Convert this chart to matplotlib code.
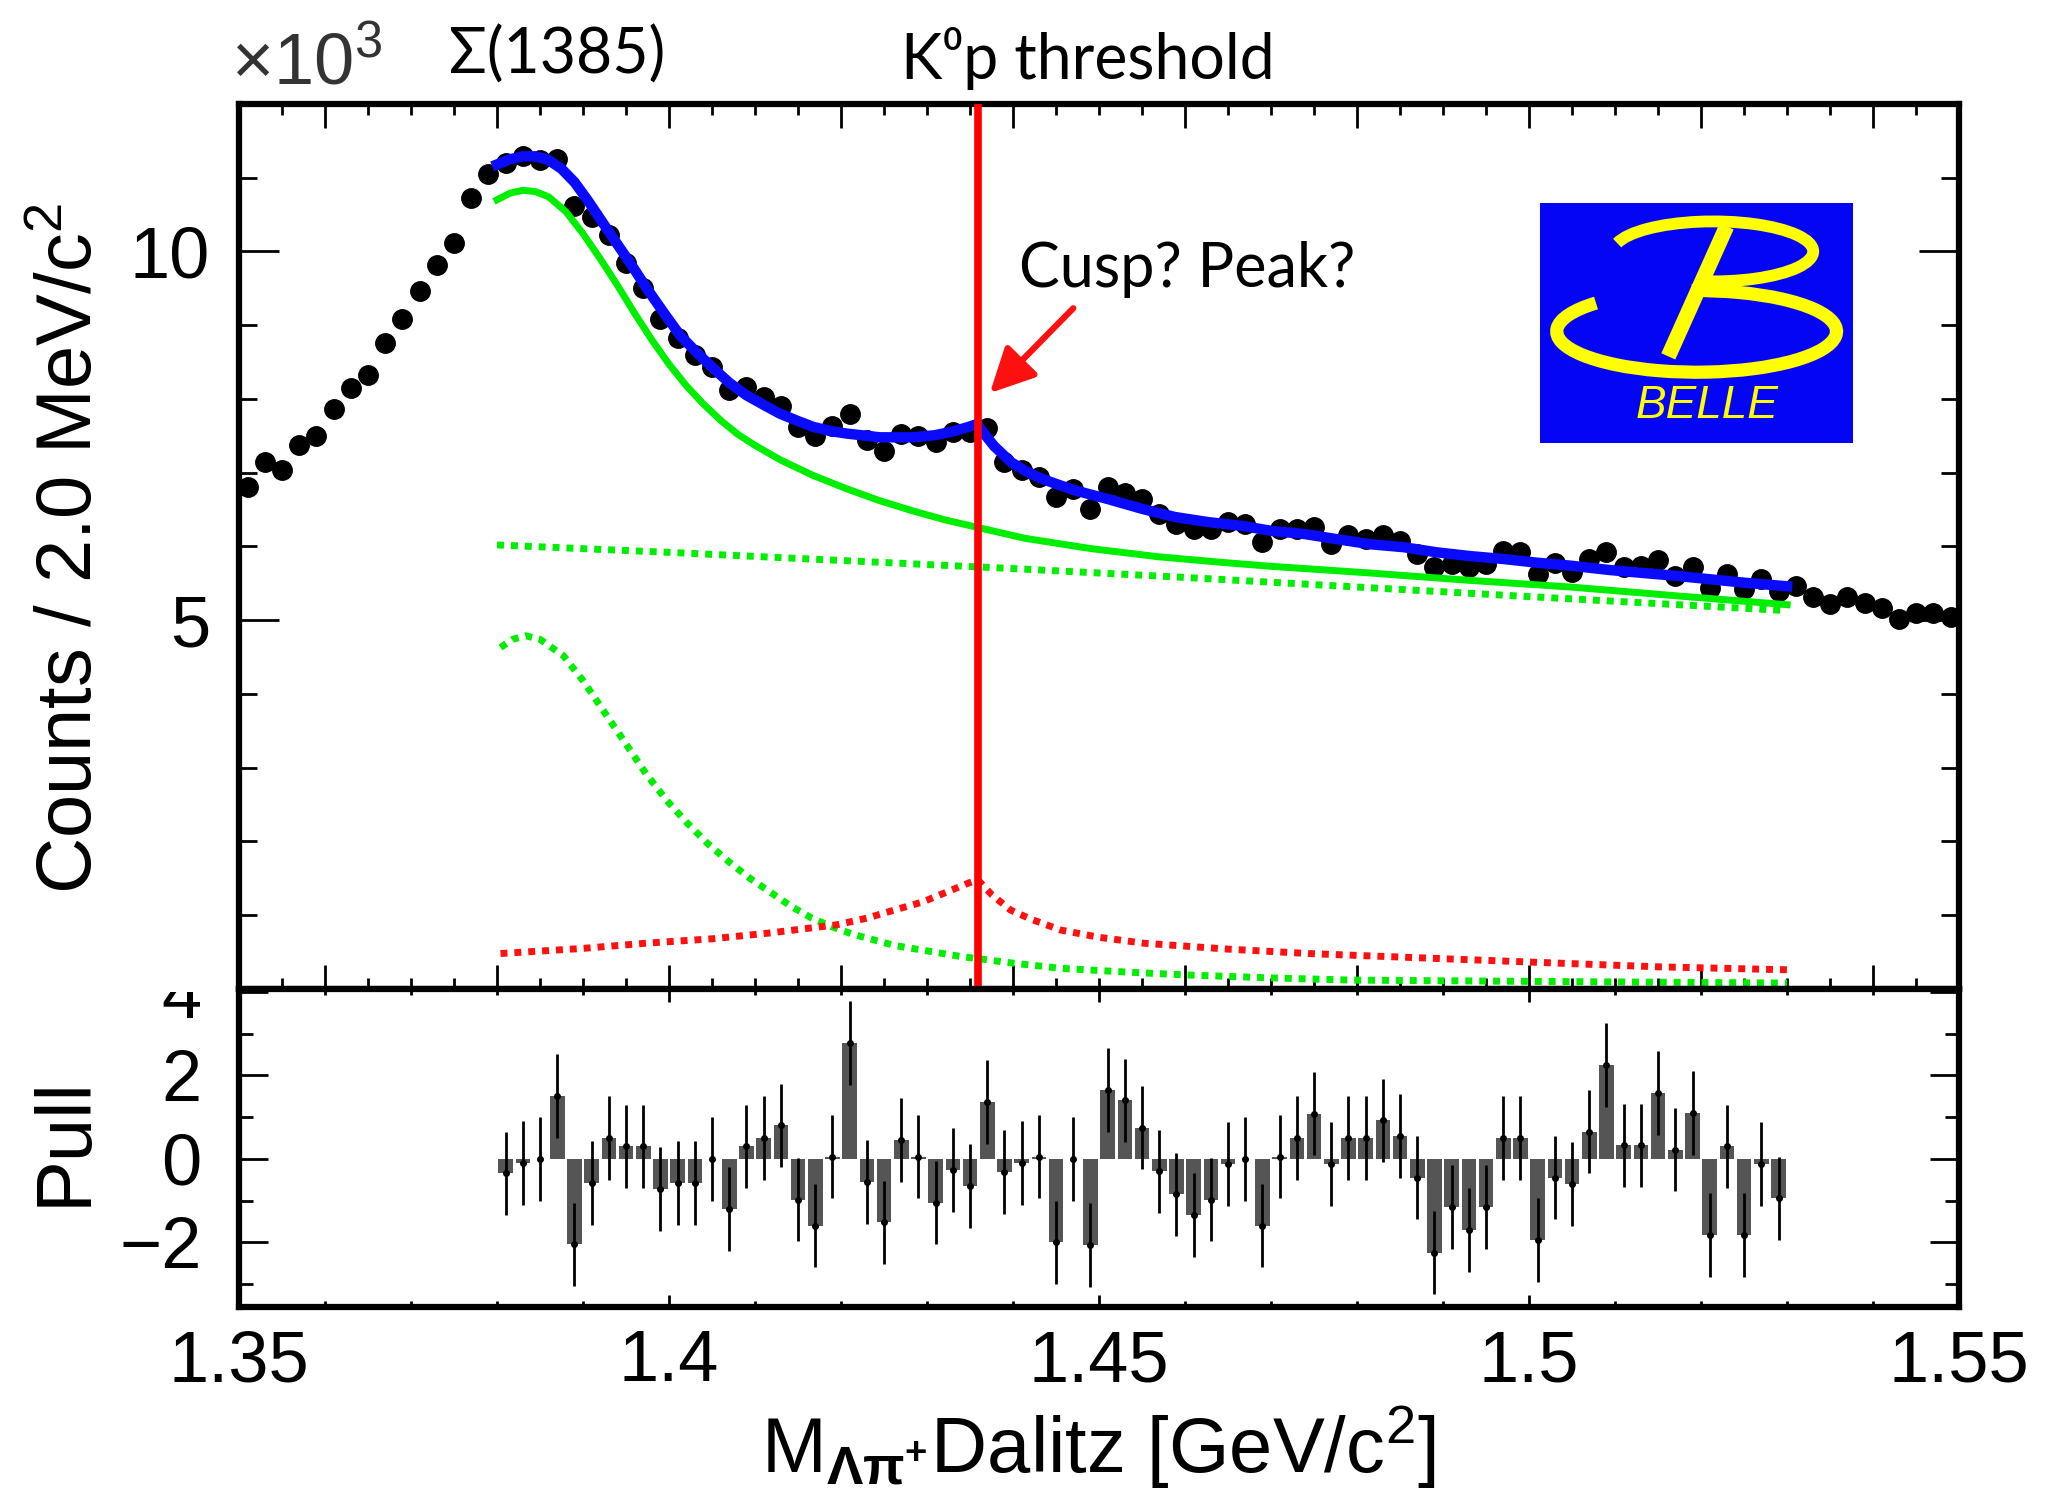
import matplotlib
matplotlib.use('Agg')
import matplotlib.pyplot as plt
import numpy as np
from matplotlib.patches import Arc, Rectangle
from matplotlib.ticker import MultipleLocator, FixedLocator, FuncFormatter

plt.rcParams['font.family'] = ['Liberation Sans', 'DejaVu Sans']
plt.rcParams['mathtext.fontset'] = 'custom'
plt.rcParams['mathtext.rm'] = 'Liberation Sans'
plt.rcParams['mathtext.it'] = 'Liberation Sans'
plt.rcParams['mathtext.bf'] = 'Liberation Sans:bold'

# ---- data: M(Lambda pi+) in 2 MeV bins from 1.35 GeV, counts in units of 10^3
mass_lo = 1.35
bin_w = 0.002
counts = [6.80, 7.14, 7.04, 7.37, 7.50, 7.87, 8.15, 8.33, 8.76, 9.09,
          9.46, 9.82, 10.11, 10.72, 11.05, 11.20, 11.29, 11.24, 11.26, 10.61,
          10.47, 10.22, 9.84, 9.50, 9.09, 8.82, 8.59, 8.43, 8.12, 8.16,
          8.03, 7.91, 7.62, 7.50, 7.64, 7.80, 7.44, 7.30, 7.53, 7.50,
          7.41, 7.55, 7.55, 7.60, 7.14, 7.03, 6.94, 6.67, 6.78, 6.51,
          6.80, 6.73, 6.64, 6.44, 6.30, 6.24, 6.24, 6.33, 6.30, 6.06,
          6.24, 6.24, 6.26, 6.03, 6.15, 6.10, 6.15, 6.08, 5.90, 5.72,
          5.76, 5.72, 5.76, 5.94, 5.92, 5.63, 5.78, 5.65, 5.83, 5.92,
          5.72, 5.74, 5.81, 5.60, 5.72, 5.44, 5.63, 5.42, 5.56, 5.40,
          5.47, 5.31, 5.22, 5.31, 5.24, 5.17, 5.01, 5.10, 5.10, 5.04]
mass = mass_lo + bin_w * (np.arange(len(counts)) + 0.5)

# total fit (blue)
fit_m = [1.3800, 1.3815, 1.3830, 1.3845, 1.3860, 1.3875, 1.3890, 1.3905, 1.3920, 1.3935,
         1.3955, 1.3974, 1.3995, 1.4013, 1.4033, 1.4052, 1.4070, 1.4090, 1.4110, 1.4129,
         1.4150, 1.4168, 1.4190, 1.4207, 1.4245, 1.4284, 1.4310, 1.4330, 1.4348, 1.4358,
         1.4367, 1.4378, 1.4398, 1.4415, 1.4433, 1.4452, 1.4472, 1.4511, 1.4550, 1.4588,
         1.4627, 1.4666, 1.4701, 1.4738, 1.4776, 1.4815, 1.4854, 1.4893, 1.4931, 1.4970,
         1.5009, 1.5048, 1.5094, 1.5172, 1.5249, 1.5300]
fit_tot = [11.18, 11.25, 11.29, 11.29, 11.24, 11.12, 10.94, 10.70, 10.44, 10.18,
           9.84, 9.50, 9.15, 8.86, 8.62, 8.41, 8.22, 8.05, 7.92, 7.80,
           7.70, 7.62, 7.56, 7.53, 7.48, 7.48, 7.51, 7.56, 7.62, 7.66,
           7.52, 7.36, 7.14, 7.02, 6.92, 6.84, 6.76, 6.64, 6.51, 6.40,
           6.33, 6.28, 6.21, 6.17, 6.10, 6.03, 5.99, 5.92, 5.87, 5.83,
           5.78, 5.74, 5.68, 5.60, 5.51, 5.46]

# Sigma(1385) + background (green solid)
sig_m = [1.3800, 1.3815, 1.3830, 1.3845, 1.3860, 1.3880, 1.3900, 1.3920, 1.3940, 1.3960,
         1.3980, 1.4000, 1.4020, 1.4040, 1.4060, 1.4080, 1.4100, 1.4130, 1.4168, 1.4207,
         1.4245, 1.4284, 1.4321, 1.4358, 1.4414, 1.4491, 1.4569, 1.4647, 1.4701, 1.4815,
         1.4931, 1.5048, 1.5172, 1.5300]
sig_tot = [10.70, 10.79, 10.83, 10.81, 10.74, 10.54, 10.24, 9.90, 9.54, 9.16,
           8.80, 8.47, 8.18, 7.93, 7.71, 7.52, 7.37, 7.17, 6.96, 6.78,
           6.62, 6.48, 6.36, 6.26, 6.11, 5.97, 5.86, 5.78, 5.73, 5.64,
           5.54, 5.45, 5.33, 5.21]

# background (green dotted, straight)
bkg_m = [1.38, 1.40, 1.42, 1.44, 1.46, 1.48, 1.50, 1.53]
bkg = [6.02, 5.92, 5.81, 5.70, 5.58, 5.45, 5.32, 5.13]

# Sigma(1385) component (green dotted)
peak_m = [1.3804, 1.3818, 1.3833, 1.3850, 1.3877, 1.3900, 1.3925, 1.3950, 1.3973, 1.3997,
          1.4021, 1.4045, 1.4070, 1.4094, 1.4118, 1.4142, 1.4166, 1.4190, 1.4214, 1.4262,
          1.4339, 1.4400, 1.4455, 1.4530, 1.4600, 1.4700, 1.4793, 1.5034, 1.5300]
peak = [4.63, 4.74, 4.79, 4.74, 4.52, 4.18, 3.75, 3.32, 2.92, 2.56,
        2.25, 1.97, 1.72, 1.50, 1.31, 1.12, 0.96, 0.84, 0.74, 0.59,
        0.44, 0.35, 0.28, 0.23, 0.19, 0.15, 0.12, 0.10, 0.08]

# cusp component (red dotted)
cusp_m = [1.3804, 1.3900, 1.3973, 1.4050, 1.4118, 1.4195, 1.4230, 1.4262, 1.4295, 1.4320,
          1.4349, 1.4359, 1.4375, 1.4397, 1.4420, 1.4455, 1.4500, 1.4552, 1.4650, 1.4744,
          1.4900, 1.5034, 1.5150, 1.5300]
cusp = [0.48, 0.55, 0.62, 0.68, 0.76, 0.87, 0.96, 1.07, 1.18, 1.30,
        1.44, 1.48, 1.28, 1.07, 0.95, 0.80, 0.70, 0.62, 0.54, 0.48,
        0.41, 0.35, 0.30, 0.26]

threshold = 1.4359

# pulls, 2 MeV bins from 1.38 to 1.53
pull_lo = 1.38
pulls = [-0.35, -0.10, 0.00, 1.50, -2.05, -0.58, 0.50, 0.30, 0.30, -0.72,
         -0.58, -0.58, 0.00, -1.20, 0.30, 0.50, 0.80, -0.98, -1.60, 0.05,
         2.78, -0.55, -1.52, 0.45, 0.05, -1.05, -0.27, -0.65, 1.36, -0.32,
         -0.10, 0.05, -2.00, 0.00, -2.07, 1.65, 1.40, 0.75, -0.30, -0.85,
         -1.35, -0.98, -0.12, 0.00, -1.60, 0.05, 0.50, 1.08, -0.12, 0.50,
         0.50, 0.92, 0.55, -0.45, -2.25, -1.15, -1.70, -1.15, 0.50, 0.50,
         -1.95, -0.45, -0.60, 0.65, 2.25, 0.32, 0.32, 1.58, 0.22, 1.10,
         -1.82, 0.30, -1.82, -0.12, -0.95]
pull_m = pull_lo + bin_w * (np.arange(len(pulls)) + 0.5)
pull_err = np.ones(len(pulls))

# annotation positions (data coords of main panel)
arrow_tail = (1.4470, 9.23)
arrow_head = (1.4373, 8.08)

fig = plt.figure(figsize=(20.45, 15.11), dpi=100)
ax = fig.add_axes([0.1169, 0.3455, 0.8411, 0.5857])
axp = fig.add_axes([0.1169, 0.1350, 0.8411, 0.2105])

green = '#00ee00'
ax.plot(mass, counts, 'o', color='black', ms=14, zorder=2)
ax.plot(bkg_m, bkg, color=green, lw=5, ls=(0, (1, 1)), dash_capstyle='butt', zorder=2)
ax.plot(peak_m, peak, color=green, lw=5, ls=(0, (1, 1)), dash_capstyle='butt', zorder=2)
ax.plot(cusp_m, cusp, color='#ff1010', lw=5, ls=(0, (1, 1)), dash_capstyle='butt', zorder=2)
ax.plot(sig_m, sig_tot, color=green, lw=5, zorder=2.5, solid_joinstyle='round')
ax.plot(fit_m, fit_tot, color='#0a0aff', lw=7.5, zorder=3, solid_joinstyle='round')
ax.axvline(threshold, color='#ff0000', lw=5.5, zorder=4)

ax.annotate('', xy=arrow_head, xytext=arrow_tail,
            arrowprops=dict(arrowstyle='-|>,head_length=0.9,head_width=0.45',
                            color='#ff1010', lw=4.5, mutation_scale=30,
                            shrinkA=0, shrinkB=0), zorder=5)
ann_font = ['Lato', 'Noto Sans', 'DejaVu Sans']
ax.text(1.4602, 9.76, 'Cusp? Peak?', ha='center', va='center', fontsize=44,
        family=ann_font)

ax.set_xlim(1.35, 1.55)
ax.set_ylim(0, 12)
ax.xaxis.set_major_locator(MultipleLocator(0.02))
ax.xaxis.set_minor_locator(MultipleLocator(0.005))
ax.tick_params(axis='x', which='both', direction='in', top=True, bottom=True,
               labelbottom=False)
ax.tick_params(axis='x', which='major', length=17, width=2)
ax.tick_params(axis='x', which='minor', length=8, width=2)
ax.yaxis.set_major_locator(FixedLocator([5, 10]))
ax.yaxis.set_minor_locator(MultipleLocator(1))
ax.yaxis.set_major_formatter(FuncFormatter(lambda v, p: '%g' % v))
ax.tick_params(axis='y', which='both', direction='in', left=True, right=True,
               labelsize=52, pad=21)
ax.tick_params(axis='y', which='major', length=29, width=2)
ax.tick_params(axis='y', which='minor', length=13, width=2)

# pull panel
axp.bar(pull_m, pulls, width=0.0017, color='#555555', zorder=2)
axp.errorbar(pull_m, pulls, yerr=pull_err, fmt='o', color='black', ms=4,
             elinewidth=2, capsize=0, zorder=3)
axp.set_xlim(1.35, 1.55)
axp.set_ylim(-3.55, 4.07)
axp.xaxis.set_major_locator(MultipleLocator(0.05))
axp.xaxis.set_minor_locator(MultipleLocator(0.01))
axp.xaxis.set_major_formatter(FuncFormatter(lambda v, p: '%g' % round(v, 2)))
axp.yaxis.set_major_locator(MultipleLocator(2))
axp.yaxis.set_minor_locator(MultipleLocator(1))
axp.yaxis.set_major_formatter(FuncFormatter(lambda v, p: ('%g' % v).replace('-', '\u2212')))
axp.tick_params(axis='both', which='both', direction='in', top=True, right=True,
                labelsize=52)
axp.tick_params(axis='x', which='major', length=9, width=2, pad=16)
axp.tick_params(axis='x', which='minor', length=4, width=2)
axp.tick_params(axis='y', which='major', length=21, width=2, pad=27)
axp.tick_params(axis='y', which='minor', length=10, width=2)

for a in (ax, axp):
    for s in a.spines.values():
        s.set_linewidth(4.5)

# hide the part of the "4" label that pokes above the divider
fig.add_artist(Rectangle((0.05, 0.3435), 0.064, 0.025, transform=fig.transFigure,
                         facecolor='white', edgecolor='none', zorder=5))

# axis labels
fig.text(0.0352, 0.637, 'Counts / 2.0 MeV/c$^{2}$', rotation=90, ha='center',
         va='center', fontsize=56)
fig.text(0.032, 0.245, 'Pull', rotation=90, ha='center', va='center', fontsize=56)
fig.text(0.537, 0.042, r'M$_{\mathbf{\Lambda\pi^{+}}}$Dalitz [GeV/c$^{2}$]',
         ha='center', va='center', fontsize=56)
fig.text(0.113, 0.957, r'$\times10^{3}$', ha='left', va='center', fontsize=52,
         color='#333333')

fig.text(0.2724, 0.9636, '\u03a3(1385)', ha='center', va='center', fontsize=45,
         family=ann_font)
fig.text(0.532, 0.961, 'K\u2070p threshold', ha='center', va='center', fontsize=45,
         family=ann_font)

# Belle logo
logo = fig.add_axes([0.7531, 0.7068, 0.1531, 0.1588])
logo.patch.set_facecolor('#0505f5')
logo.set_xticks([])
logo.set_yticks([])
for s in logo.spines.values():
    s.set_visible(False)
logo.set_xlim(60, 1000)
logo.set_ylim(760, 40)
yellow = '#ffff00'


def polar(t, w, h):
    # Arc wants polar angles, convert from the ellipse parameter angle
    t = np.radians(t)
    return np.degrees(np.arctan2(h * np.sin(t), w * np.cos(t))) % 360


logo.add_patch(Arc((580, 185), 600, 180, theta1=polar(196, 600, 180),
                   theta2=polar(98, 600, 180), lw=8.5, color=yellow))
logo.add_patch(Arc((530, 425), 840, 245, theta1=polar(268, 840, 245),
                   theta2=polar(224, 840, 245), lw=9.5, color=yellow))
logo.plot([620, 445], [110, 500], color=yellow, lw=11, solid_capstyle='butt')
logo.text(560, 650, 'BELLE', color=yellow, style='italic', fontsize=33,
          ha='center', va='center')

fig.savefig('out.png', dpi=100)
